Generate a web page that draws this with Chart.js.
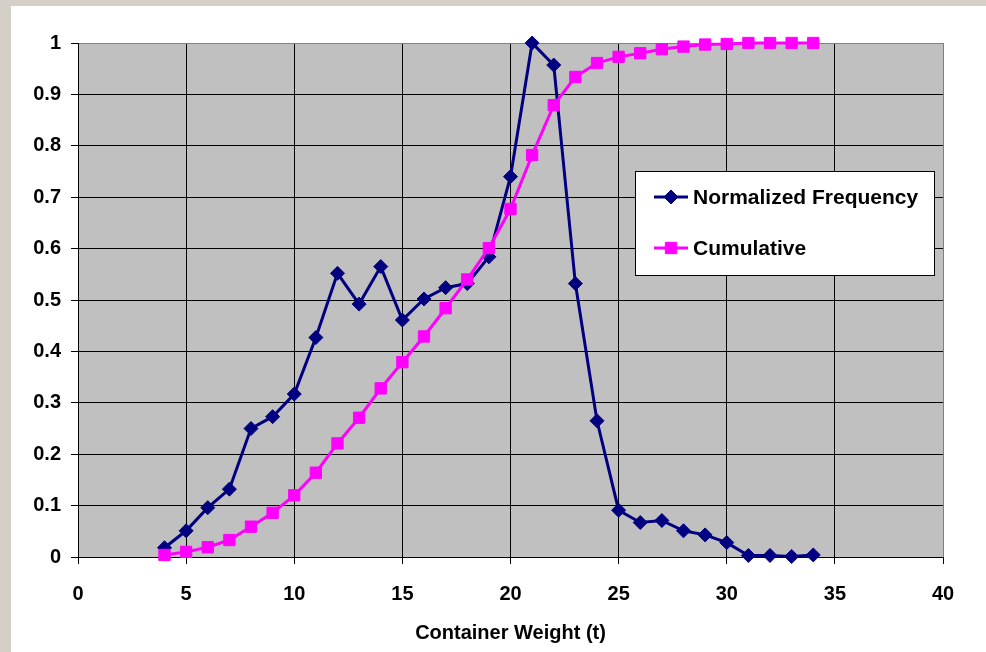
<!DOCTYPE html>
<html>
<head>
<meta charset="utf-8">
<script src="https://cdn.jsdelivr.net/npm/chart.js@4.4.0/dist/chart.umd.min.js"></script>
<style>
    html, body { margin: 0; padding: 0; width: 986px; height: 652px; overflow: hidden; background: #d4d0c8; }
    #wrap { position: absolute; left: 11px; top: 6px; width: 975px; height: 646px; background: #fff; }
</style>
</head>
<body>
<div id="wrap"><canvas id="weightChart"></canvas></div>
<script>
const WEIGHTS = [4, 5, 6, 7, 8, 9, 10, 11, 12, 13, 14, 15, 16, 17, 18, 19, 20, 21, 22, 23, 24, 25, 26, 27, 28, 29, 30, 31, 32, 33, 34];
const NORM_FREQ = [0.018, 0.051, 0.096, 0.132, 0.25, 0.273, 0.317, 0.427, 0.552, 0.492, 0.565, 0.461, 0.502, 0.524, 0.532, 0.584,
    0.74, 1.0, 0.957, 0.532, 0.265, 0.091, 0.067, 0.071, 0.051, 0.043, 0.028, 0.003, 0.003, 0.001, 0.004];
const CUMULATIVE = [0.004, 0.01, 0.019, 0.033, 0.059, 0.086, 0.12, 0.164, 0.221, 0.271, 0.328, 0.379, 0.429, 0.484, 0.54, 0.601,
    0.677, 0.782, 0.879, 0.934, 0.961, 0.973, 0.98, 0.988, 0.993, 0.997, 0.998, 1.0, 1.0, 1.0, 1.0];
const X_TICKS = [0, 5, 10, 15, 20, 25, 30, 35, 40];
const Y_TICKS = [0, 0.1, 0.2, 0.3, 0.4, 0.5, 0.6, 0.7, 0.8, 0.9, 1];

const FONT = 'Liberation Sans, Arial, sans-serif';
const BLUE = '#000080';
const PINK = '#ff00ff';

// gray plot background
const plotBg = {
    id: 'plotBg',
    beforeDraw(chart) {
        const { ctx, chartArea: a } = chart;
        ctx.save();
        ctx.fillStyle = '#c0c0c0';
        ctx.fillRect(a.left, a.top, a.right - a.left, a.bottom - a.top);
        ctx.restore();
    }
};

// excel style legend box sitting inside the plot
const boxLegend = {
    id: 'boxLegend',
    afterDraw(chart) {
        const ctx = chart.ctx;
        const x = 624, y = 165, w = 299, h = 104;
        ctx.save();
        ctx.fillStyle = '#fff';
        ctx.fillRect(x, y, w, h);
        ctx.strokeStyle = '#000';
        ctx.lineWidth = 1;
        ctx.strokeRect(x + 0.5, y + 0.5, w, h);
        chart.data.datasets.forEach((ds, i) => {
            const cy = y + 26 + i * 51;
            ctx.strokeStyle = ds.borderColor;
            ctx.lineWidth = 3;
            ctx.beginPath();
            ctx.moveTo(643, cy);
            ctx.lineTo(677, cy);
            ctx.stroke();
            ctx.fillStyle = ds.pointBackgroundColor;
            ctx.strokeStyle = ds.pointBorderColor;
            ctx.lineWidth = 1;
            Chart.helpers.drawPoint(ctx, { pointStyle: ds.pointStyle, radius: ds.pointRadius, borderWidth: 1 }, 660, cy);
            ctx.fillStyle = '#000';
            ctx.font = 'bold 21px ' + FONT;
            ctx.textBaseline = 'middle';
            ctx.fillText(ds.label, 682, cy + 1);
        });
        ctx.restore();
    }
};

const gridColor = (edge) => (c) => (c.tick && c.tick.value === edge ? '#808080' : '#000');

new Chart(document.getElementById('weightChart').getContext('2d'), {
    type: 'line',
    data: {
        datasets: [{
            label: 'Normalized Frequency',
            data: WEIGHTS.map((w, i) => ({ x: w, y: NORM_FREQ[i] })),
            borderColor: BLUE, borderWidth: 3,
            pointStyle: 'rectRot', pointRadius: 7,
            pointBackgroundColor: BLUE, pointBorderColor: BLUE, pointBorderWidth: 1,
            tension: 0, order: 1
        }, {
            label: 'Cumulative',
            data: WEIGHTS.map((w, i) => ({ x: w, y: CUMULATIVE[i] })),
            borderColor: PINK, borderWidth: 3,
            pointStyle: 'rect', pointRadius: 8,
            pointBackgroundColor: PINK, pointBorderColor: PINK, pointBorderWidth: 1,
            tension: 0, order: 0
        }]
    },
    options: {
        responsive: true,
        maintainAspectRatio: false,
        animation: false,
        clip: false,
        layout: { padding: { left: 0, top: 37, right: 43, bottom: 0 } },
        plugins: { legend: { display: false }, tooltip: { enabled: false } },
        scales: {
            x: {
                type: 'linear', min: 0, max: 40,
                afterBuildTicks: s => { s.ticks = X_TICKS.map(v => ({ value: v })); },
                afterFit: s => { s.height = 95; },
                grid: { color: gridColor(40), tickColor: '#000', tickLength: 7, lineWidth: 1 },
                border: { color: '#000', width: 1 },
                ticks: { color: '#000', padding: 18, maxRotation: 0, callback: v => String(v), font: { family: FONT, size: 20, weight: 'bold' } },
                title: { display: true, text: 'Container Weight (t)', color: '#000', padding: { top: 0, bottom: 7 }, font: { family: FONT, size: 20, weight: 'bold' } }
            },
            y: {
                min: 0, max: 1,
                afterBuildTicks: s => { s.ticks = Y_TICKS.map(v => ({ value: v })); },
                afterFit: s => { s.width = 67; },
                grid: { color: gridColor(1), tickColor: '#000', tickLength: 7, lineWidth: 1 },
                border: { color: '#000', width: 1 },
                ticks: { color: '#000', padding: 10, callback: v => String(v), font: { family: FONT, size: 20, weight: 'bold' } }
            }
        }
    },
    plugins: [plotBg, boxLegend]
});
</script>
</body>
</html>
